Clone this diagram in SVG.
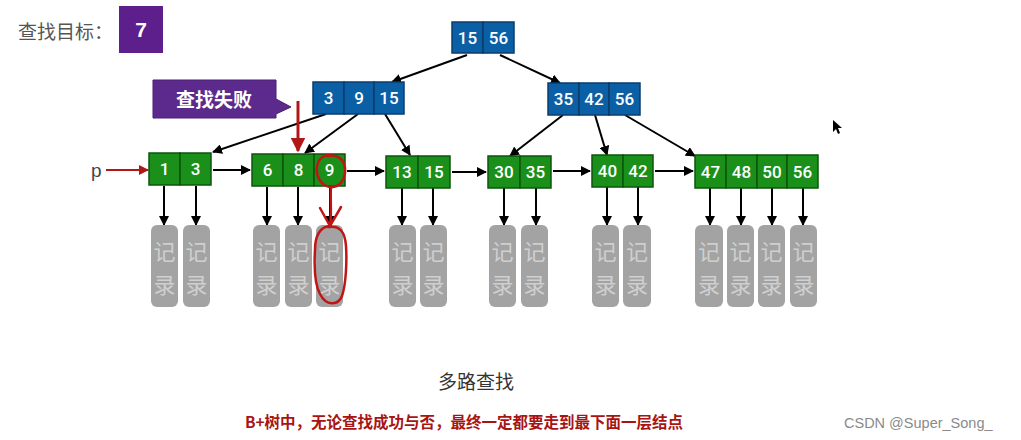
<svg xmlns="http://www.w3.org/2000/svg" width="1021" height="440" viewBox="0 0 1021 440">
<defs>
<marker id="ah" viewBox="0 0 10 10" refX="9" refY="5" markerWidth="5" markerHeight="5" orient="auto"><path d="M0,0 L10,5 L0,10 z" fill="#000"/></marker>
<marker id="ahr" viewBox="0 0 10 10" refX="9" refY="5" markerWidth="5" markerHeight="5" orient="auto"><path d="M0,0 L10,5 L0,10 z" fill="#b01818"/></marker>
</defs>
<style>
.bl{fill:#0b5fa5;stroke:#0a3c6c;stroke-width:1.5}
.gr{fill:#1a8f1a;stroke:#0c560c;stroke-width:1.5}
.num{fill:#fff;font-family:Roboto,"Liberation Sans",sans-serif;font-weight:500;font-size:17px;text-anchor:middle}
.rec{fill:#a3a3a3}
.rt{fill:#cfcfcf;font-family:"Noto Sans CJK SC",sans-serif;font-size:22px;text-anchor:middle}
.ln{stroke:#000;stroke-width:2;fill:none;marker-end:url(#ah)}
.red{stroke:#c01515;stroke-width:2.5;fill:none;stroke-linecap:round}
</style>
<rect width="1021" height="440" fill="#fff"/>
<text x="18" y="39" font-family="'Noto Sans CJK SC',sans-serif" font-size="19" fill="#555">查找目标：</text>
<g id="target"><rect x="119" y="6" width="44" height="47" fill="#5c1f8c"/><text x="141" y="37" fill="#fff" font-family="'Liberation Sans',sans-serif" font-weight="bold" font-size="21" text-anchor="middle">7</text></g>
<g id="callout"><path d="M153,80 H276 V99 L291,107 L276,114 V118 H153 Z" fill="#5c2a8c" stroke="#4a1f75" stroke-width="1"/><text x="214" y="107" fill="#fff" font-family="'Noto Sans CJK SC',sans-serif" font-weight="bold" font-size="19" text-anchor="middle">查找失败</text></g>

<g id="connectors">
<line class="ln" x1="467" y1="55" x2="392" y2="82"/>
<line class="ln" x1="500" y1="55" x2="560" y2="83"/>
<line class="ln" x1="326" y1="114" x2="213" y2="152"/>
<line class="ln" x1="358" y1="114" x2="305" y2="153"/>
<line class="ln" x1="385" y1="114" x2="410" y2="155"/>
<line class="ln" x1="563" y1="115" x2="510" y2="156"/>
<line class="ln" x1="595" y1="115" x2="607" y2="155"/>
<line class="ln" x1="625" y1="115" x2="695" y2="156"/>
<line class="ln" x1="213" y1="170" x2="250" y2="170"/>
<line class="ln" x1="347" y1="171" x2="384" y2="171"/>
<line class="ln" x1="452" y1="172" x2="486" y2="172"/>
<line class="ln" x1="553" y1="171" x2="590" y2="171"/>
<line class="ln" x1="655" y1="171" x2="693" y2="171"/>
<line class="ln" x1="164" y1="186" x2="164" y2="225"/>
<line class="ln" x1="196" y1="186" x2="196" y2="225"/>
<line class="ln" x1="267" y1="187" x2="267" y2="225"/>
<line class="ln" x1="298" y1="187" x2="298" y2="225"/>
<line class="ln" x1="330" y1="187" x2="330" y2="225"/>
<line class="ln" x1="402" y1="188" x2="402" y2="225"/>
<line class="ln" x1="433" y1="188" x2="433" y2="225"/>
<line class="ln" x1="504" y1="188" x2="504" y2="225"/>
<line class="ln" x1="536" y1="188" x2="536" y2="225"/>
<line class="ln" x1="607" y1="187" x2="607" y2="225"/>
<line class="ln" x1="638" y1="187" x2="638" y2="225"/>
<line class="ln" x1="710" y1="188" x2="710" y2="225"/>
<line class="ln" x1="741" y1="188" x2="741" y2="225"/>
<line class="ln" x1="772" y1="188" x2="772" y2="225"/>
<line class="ln" x1="803" y1="188" x2="803" y2="225"/>
<line x1="106" y1="170" x2="148" y2="170" stroke="#b01818" stroke-width="2" marker-end="url(#ahr)"/>
<line x1="298" y1="101" x2="298" y2="151" stroke="#b01818" stroke-width="3" marker-end="url(#ahr)"/>
</g>
<text x="91" y="177" font-family="'Liberation Sans',sans-serif" font-size="19" fill="#444">p</text>

<g id="root"><rect class="bl" x="452" y="22" width="31" height="31"/><rect class="bl" x="483" y="22" width="31" height="31"/><text class="num" x="467.5" y="44">15</text><text class="num" x="498.5" y="44">56</text></g>
<g id="int1"><rect class="bl" x="313" y="82" width="31" height="32"/><rect class="bl" x="344" y="82" width="30" height="32"/><rect class="bl" x="374" y="82" width="30" height="32"/><text class="num" x="328.5" y="104">3</text><text class="num" x="359" y="104">9</text><text class="num" x="389" y="104">15</text></g>
<g id="int2"><rect class="bl" x="548" y="83" width="31" height="32"/><rect class="bl" x="579" y="83" width="30" height="32"/><rect class="bl" x="609" y="83" width="31" height="32"/><text class="num" x="563.5" y="105">35</text><text class="num" x="594" y="105">42</text><text class="num" x="624.5" y="105">56</text></g>

<g id="leaf1"><rect class="gr" x="149" y="153" width="31" height="32"/><rect class="gr" x="180" y="153" width="31" height="32"/><text class="num" x="164.5" y="175">1</text><text class="num" x="195.5" y="175">3</text></g>
<g id="leaf2"><rect class="gr" x="252" y="154" width="31" height="32"/><rect class="gr" x="283" y="154" width="31" height="32"/><rect class="gr" x="314" y="154" width="31" height="32"/><text class="num" x="267.5" y="176">6</text><text class="num" x="298.5" y="176">8</text><text class="num" x="329.5" y="176">9</text></g>
<g id="leaf3"><rect class="gr" x="386" y="156" width="32" height="32"/><rect class="gr" x="418" y="156" width="32" height="32"/><text class="num" x="402" y="178">13</text><text class="num" x="434" y="178">15</text></g>
<g id="leaf4"><rect class="gr" x="488" y="156" width="32" height="32"/><rect class="gr" x="520" y="156" width="31" height="32"/><text class="num" x="504" y="178">30</text><text class="num" x="535.5" y="178">35</text></g>
<g id="leaf5"><rect class="gr" x="592" y="155" width="31" height="32"/><rect class="gr" x="623" y="155" width="30" height="32"/><text class="num" x="607.5" y="177">40</text><text class="num" x="638" y="177">42</text></g>
<g id="leaf6"><rect class="gr" x="695" y="155" width="31" height="33"/><rect class="gr" x="726" y="155" width="31" height="33"/><rect class="gr" x="757" y="155" width="30" height="33"/><rect class="gr" x="787" y="155" width="31" height="33"/><text class="num" x="710.5" y="177.5">47</text><text class="num" x="741.5" y="177.5">48</text><text class="num" x="772" y="177.5">50</text><text class="num" x="802.5" y="177.5">56</text></g>

<g id="records">
<g><rect class="rec" x="151" y="225" width="27" height="82" rx="6"/><text class="rt" x="164.5" y="260">记</text><text class="rt" x="164.5" y="293">录</text></g>
<g><rect class="rec" x="183" y="225" width="27" height="82" rx="6"/><text class="rt" x="196.5" y="260">记</text><text class="rt" x="196.5" y="293">录</text></g>
<g><rect class="rec" x="253" y="225" width="27" height="82" rx="6"/><text class="rt" x="266.5" y="260">记</text><text class="rt" x="266.5" y="293">录</text></g>
<g><rect class="rec" x="285" y="225" width="27" height="82" rx="6"/><text class="rt" x="298.5" y="260">记</text><text class="rt" x="298.5" y="293">录</text></g>
<g><rect class="rec" x="316" y="225" width="27" height="82" rx="6"/><text class="rt" x="329.5" y="260">记</text><text class="rt" x="329.5" y="293">录</text></g>
<g><rect class="rec" x="389" y="225" width="27" height="82" rx="6"/><text class="rt" x="402.5" y="260">记</text><text class="rt" x="402.5" y="293">录</text></g>
<g><rect class="rec" x="420" y="225" width="27" height="82" rx="6"/><text class="rt" x="433.5" y="260">记</text><text class="rt" x="433.5" y="293">录</text></g>
<g><rect class="rec" x="489" y="225" width="27" height="82" rx="6"/><text class="rt" x="502.5" y="260">记</text><text class="rt" x="502.5" y="293">录</text></g>
<g><rect class="rec" x="521" y="225" width="27" height="82" rx="6"/><text class="rt" x="534.5" y="260">记</text><text class="rt" x="534.5" y="293">录</text></g>
<g><rect class="rec" x="592" y="225" width="27" height="82" rx="6"/><text class="rt" x="605.5" y="260">记</text><text class="rt" x="605.5" y="293">录</text></g>
<g><rect class="rec" x="623" y="225" width="28" height="82" rx="6"/><text class="rt" x="637" y="260">记</text><text class="rt" x="637" y="293">录</text></g>
<g><rect class="rec" x="695" y="225" width="28" height="82" rx="6"/><text class="rt" x="709" y="260">记</text><text class="rt" x="709" y="293">录</text></g>
<g><rect class="rec" x="727" y="225" width="27" height="82" rx="6"/><text class="rt" x="740.5" y="260">记</text><text class="rt" x="740.5" y="293">录</text></g>
<g><rect class="rec" x="758" y="225" width="27" height="82" rx="6"/><text class="rt" x="771.5" y="260">记</text><text class="rt" x="771.5" y="293">录</text></g>
<g><rect class="rec" x="790" y="225" width="27" height="82" rx="6"/><text class="rt" x="803.5" y="260">记</text><text class="rt" x="803.5" y="293">录</text></g>
</g>

<g id="annotations">
<path class="red" d="M330,155 C320,155 316,163 317,172 C318,182 326,188 333,187 C342,186 346,176 345,168 C344,159 337,154 328,156"/>
<path class="red" d="M331,187 C330,198 332,212 330,226 M320,208 L330,226 L341,207"/>
<path class="red" d="M331,226 C320,226 315,236 315,250 C314,268 315,285 320,294 C326,306 338,306 342,296 C346,284 347,262 346,246 C345,232 340,225 328,227"/>
</g>

<path d="M833,120 L833,132 L836,129 L838,134 L840,133 L838,128 L842,128 Z" fill="#000"/>

<text x="476" y="389" font-family="'Noto Sans CJK SC',sans-serif" font-size="19" fill="#333" text-anchor="middle">多路查找</text>
<text x="464" y="428" font-family="'Noto Sans CJK SC',sans-serif" font-weight="bold" font-size="15.5" fill="#a81414" text-anchor="middle">B+树中，无论查找成功与否，最终一定都要走到最下面一层结点</text>
<text x="844" y="428" font-family="'Liberation Sans',sans-serif" font-size="14.5" fill="#8a8a8a">CSDN @Super_Song_</text>
</svg>
